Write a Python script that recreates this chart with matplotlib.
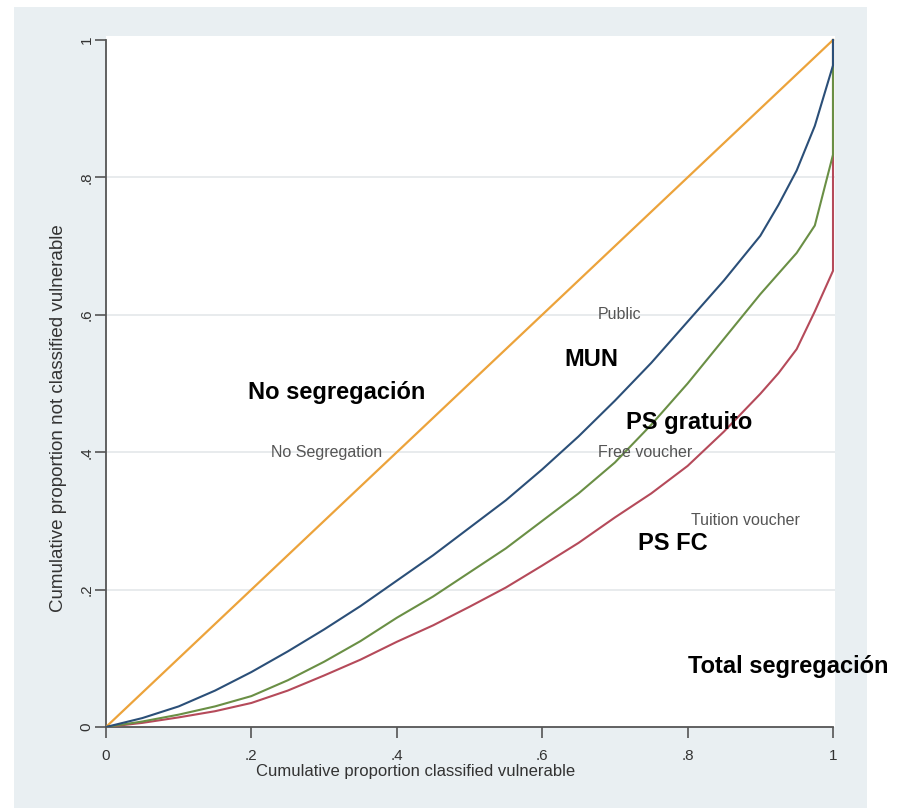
import matplotlib.pyplot as plt
from matplotlib.patches import Rectangle

# cumulative proportion classified vulnerable
share_vuln = [0, .05, .1, .15, .2, .25, .3, .35, .4, .45, .5, .55, .6, .65,
              .7, .75, .8, .85, .9, .925, .95, .975, 1, 1]
# cumulative proportion not classified vulnerable, per school type
mun = [0, .013, .03, .053, .08, .11, .142, .176, .213, .25, .29, .33, .375, .423,
       .475, .53, .59, .65, .715, .76, .81, .875, .963, 1]
ps_gratuito = [0, .008, .018, .03, .045, .068, .095, .125, .159, .19, .225, .26, .30, .34,
               .385, .44, .50, .565, .63, .66, .69, .73, .833, 1]
ps_fc = [0, .006, .014, .023, .035, .053, .075, .098, .124, .148, .175, .203, .235, .268,
         .305, .34, .38, .43, .485, .515, .55, .605, .664, 1]
no_seg = [0, 1]

ticks = [0, .2, .4, .6, .8, 1]
tick_labels = ["0", ".2", ".4", ".6", ".8", "1"]

# small in-plot labels from the original graph (data coords)
small_labels = ["Public", "No Segregation", "Free voucher", "Tuition voucher"]
small_x = [.707, .304, .741, .879]
small_y = [.60, .40, .40, .30]

# bold labels laid over the picture (pixel centres)
big_labels = ["No segregación", "MUN", "PS gratuito", "PS FC", "Total segregación"]
big_px = [(337, 392), (591, 360), (689, 422), (673, 543), (788, 667)]

W, H = 905, 808
fig = plt.figure(figsize=(W / 100, H / 100), dpi=100, facecolor="white")
fig.patches.append(Rectangle((14 / W, 0), 853 / W, 801 / H, transform=fig.transFigure,
                             facecolor="#e9eff2", edgecolor="none", zorder=-5))

ax = fig.add_axes([106 / W, (H - 727) / H, 729 / W, 691 / H])
ax.set_facecolor("white")
ax.set_xlim(0, 729 / 727)
ax.set_ylim(0, 691 / 687)

for y in [.2, .4, .6, .8]:
    ax.axhline(y, color="#e4e7ea", lw=1.2, zorder=1)

ax.plot(no_seg, no_seg, color="#eca33b", lw=1.6, zorder=3)
ax.plot(share_vuln, ps_fc, color="#b54a5a", lw=1.5, zorder=3)
ax.plot(share_vuln, ps_gratuito, color="#6a8f45", lw=1.5, zorder=3)
ax.plot(share_vuln, mun, color="#2b4f78", lw=1.5, zorder=3)

for s in ["top", "right"]:
    ax.spines[s].set_visible(False)
for s in ["left", "bottom"]:
    ax.spines[s].set_color("#555555")
    ax.spines[s].set_linewidth(1.3)
    ax.spines[s].set_bounds(0, 1)

ax.set_xticks(ticks)
ax.set_xticklabels(tick_labels)
ax.set_yticks(ticks)
ax.set_yticklabels(tick_labels, rotation=90, va="center")
ax.tick_params(length=8, width=1.2, color="#555555", labelcolor="#333333",
               labelsize=11)
ax.tick_params(axis="x", pad=8)
ax.tick_params(axis="y", pad=1)
for lab in ax.get_xticklabels() + ax.get_yticklabels():
    lab.set_family("Liberation Sans")

ax.set_xlabel("Cumulative proportion classified vulnerable", fontsize=12,
              family="Liberation Sans", color="#333333")
ax.set_ylabel("Cumulative proportion not classified vulnerable", fontsize=13.5,
              family="Liberation Sans", color="#333333")
ax.xaxis.set_label_coords(0.424, -0.054)
ax.yaxis.set_label_coords(-0.053, 0.447)

for t, x, y in zip(small_labels, small_x, small_y):
    ax.text(x, y, t, ha="center", va="center", fontsize=11.5, color="#555555",
            family="Liberation Sans", zorder=4)

for t, (px, py) in zip(big_labels, big_px):
    fig.text(px / W, 1 - py / H, t, ha="center", va="center", fontsize=17,
             fontweight="bold", family="Liberation Sans", color="black", zorder=10)

fig.savefig("out.png", dpi=100, facecolor="white")
